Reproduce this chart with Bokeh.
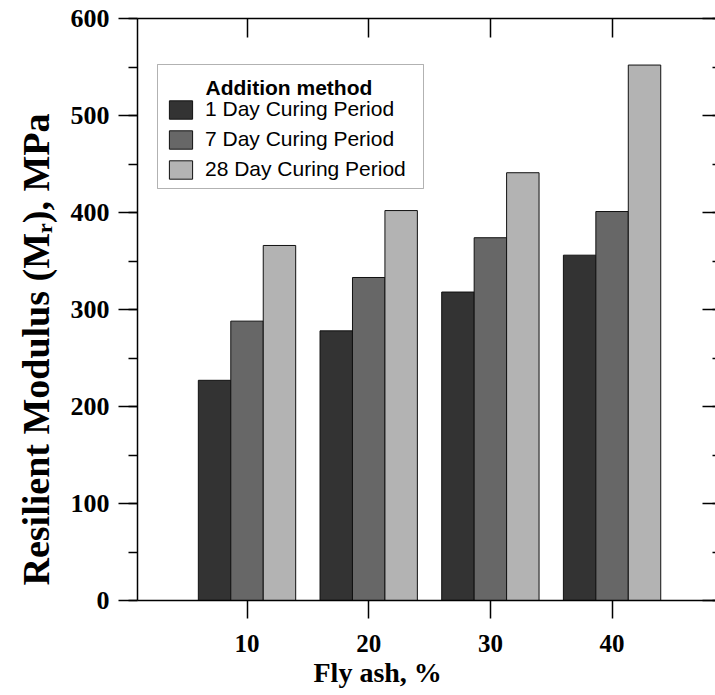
from bokeh.plotting import figure
from bokeh.models import (FixedTicker, SingleIntervalTicker, LinearAxis, Legend, LegendItem,
                          BoxAnnotation, Label, Title, Range1d, ColumnDataSource,
                          CustomJSTickFormatter)
from bokeh.transform import dodge
from bokeh.embed import file_html
from bokeh.resources import INLINE

# ---- data ----
fly_ash = [10, 20, 30, 40]
day1 = [227, 278, 318, 356]
day7 = [288, 333, 374, 401]
day28 = [366, 402, 441, 552]
series_labels = ["1 Day Curing Period", "7 Day Curing Period", "28 Day Curing Period"]
series_colors = ["#333333", "#676767", "#b3b3b3"]
x_ticks = [10, 20, 30, 40]
legend_title = "Addition method"
x_title = "Fly ash, %"
y_title = "Resilient Modulus (M\u1d63), MPa"

src = ColumnDataSource(dict(x=fly_ash, d1=day1, d7=day7, d28=day28))

SERIF = "Liberation Serif"
SANS = "Liberation Sans"

p = figure(width=715, height=695, x_range=Range1d(1, 48.5), y_range=Range1d(0, 600),
           output_backend="svg", toolbar_location=None,
           min_border_left=137, min_border_right=0, min_border_top=18, min_border_bottom=95)
p.outline_line_color = None
p.xgrid.visible = False
p.ygrid.visible = False
p.background_fill_color = "white"
p.border_fill_color = "white"

bw = 8.0 / 3.0
renderers = []
for col, off, color in zip(["d1", "d7", "d28"], [-bw, 0.0, bw], series_colors):
    r = p.vbar(x=dodge("x", off, range=p.x_range), top=col, width=bw, bottom=0, source=src,
               fill_color=color, line_color="#111111", line_width=1)
    renderers.append(r)

# bottom axis
xa = p.xaxis[0]
xa.ticker = FixedTicker(ticks=x_ticks)
xa.major_tick_out = 18
xa.major_tick_in = 0
xa.minor_tick_out = 0
xa.minor_tick_in = 0
xa.axis_line_width = 1.5
xa.major_tick_line_width = 1.5
xa.major_label_standoff = 16
xa.major_label_text_font = SERIF
xa.major_label_text_font_style = "bold"
xa.major_label_text_font_size = "25px"
xa.major_label_text_color = "black"

# left axis
ya = p.yaxis[0]
ya.ticker = SingleIntervalTicker(interval=100, num_minor_ticks=2)
ya.major_tick_out = 19
ya.major_tick_in = 0
ya.minor_tick_out = 9
ya.minor_tick_in = 0
ya.axis_line_width = 1.5
ya.major_tick_line_width = 1.5
ya.minor_tick_line_width = 1.5
ya.major_label_standoff = 9
ya.major_label_text_font = SERIF
ya.major_label_text_font_style = "bold"
ya.major_label_text_font_size = "26px"
ya.major_label_text_color = "black"

blank = CustomJSTickFormatter(code="return ''")

# top axis (ticks inward, no labels)
ta = LinearAxis(ticker=FixedTicker(ticks=x_ticks), formatter=blank)
ta.major_tick_in = 19
ta.major_tick_out = 0
ta.minor_tick_in = 0
ta.minor_tick_out = 0
ta.axis_line_width = 1.5
ta.major_tick_line_width = 1.5
ta.major_label_standoff = 0
p.add_layout(ta, "above")

# right axis (ticks inward, no labels, spine off-image)
ra = LinearAxis(ticker=SingleIntervalTicker(interval=100, num_minor_ticks=2), formatter=blank)
ra.major_tick_in = 13
ra.major_tick_out = 0
ra.minor_tick_in = 3
ra.minor_tick_out = 0
ra.axis_line_color = None
ra.major_tick_line_width = 1.5
ra.minor_tick_line_width = 1.5
ra.major_label_standoff = 0
p.add_layout(ra, "right")

# axis titles
yt = Title(text=y_title, align="left", offset=15, text_font=SERIF, text_font_style="bold",
           text_font_size="38px", text_color="black", standoff=22)
p.add_layout(yt, "left")
xt = Title(text=x_title, align="left", offset=176, text_font=SERIF, text_font_style="bold",
           text_font_size="28px", text_color="black", standoff=0)
p.add_layout(xt, "below")

# legend frame, title, items
box = BoxAnnotation(left=20, right=286, bottom=412, top=536,
                    left_units="screen", right_units="screen",
                    bottom_units="screen", top_units="screen",
                    fill_color="white", fill_alpha=1.0, line_color="black", line_width=1)
p.add_layout(box)
p.add_layout(Label(x=68, y=513.5, x_units="screen", y_units="screen", text=legend_title,
                   text_font=SANS, text_font_style="bold", text_font_size="21px",
                   text_baseline="alphabetic", text_color="black"))

legend = Legend(items=[LegendItem(label=l, renderers=[r]) for l, r in zip(series_labels, renderers)],
                location=(29, 418.7), border_line_color=None, background_fill_alpha=0,
                padding=0, margin=0, spacing=6, glyph_width=29, glyph_height=23,
                label_standoff=10, label_text_font=SANS, label_text_font_size="21px",
                label_text_color="black", label_height=23)
p.add_layout(legend)

open("out.html", "w").write(file_html(p, INLINE))
